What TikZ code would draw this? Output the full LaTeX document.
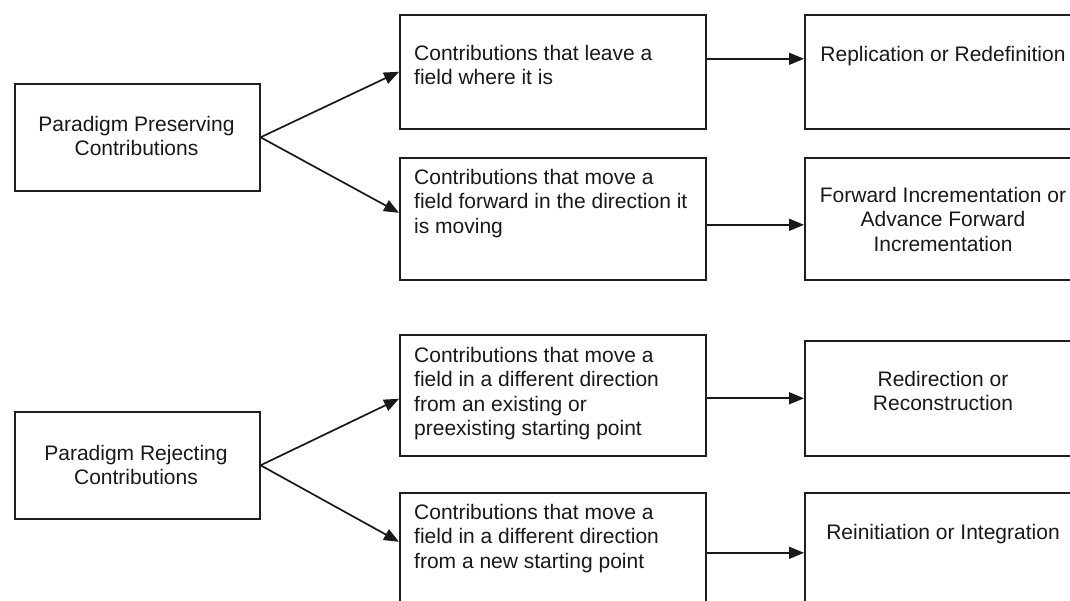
\documentclass[tikz,border=0pt]{standalone}
\usepackage{fontspec}
\setmainfont{Liberation Sans}
\usetikzlibrary{arrows.meta}
\tikzset{
  box/.style={draw=black!88, line width=1.6pt, rectangle, inner sep=0pt, anchor=north west},
  txt/.style={inner sep=0pt, font=\fontsize{21pt}{24.5pt}\selectfont, text=black!90},
  arr/.style={draw=black!90, line width=1.7pt, -{Triangle[length=15pt,width=12pt]}}
}
\begin{document}
\begin{tikzpicture}[x=1pt,y=-1pt]
\useasboundingbox (0,0) rectangle (1070,601);
\clip (0,0) rectangle (1070,601);
\fill[white] (0,0) rectangle (1070,601);
% boxes
\node[box, minimum width=245pt, minimum height=107pt] (pp) at (14,83) {};
\node[box, minimum width=245pt, minimum height=107pt] (pr) at (14,411) {};
\node[box, minimum width=306pt, minimum height=114pt] (m1) at (399,14) {};
\node[box, minimum width=306pt, minimum height=122pt] (m2) at (399,157) {};
\node[box, minimum width=306pt, minimum height=121pt] (m3) at (399,334) {};
\node[box, minimum width=306pt, minimum height=140pt] (m4) at (399,492) {};
\node[box, minimum width=278pt, minimum height=114pt] (r1) at (804,14) {};
\node[box, minimum width=278pt, minimum height=122pt] (r2) at (804,157) {};
\node[box, minimum width=278pt, minimum height=115pt] (r3) at (804,340) {};
\node[box, minimum width=278pt, minimum height=140pt] (r4) at (804,492) {};
% texts
\node[txt, align=center, anchor=north] (tpp) at (136.5,116) {Paradigm Preserving\\Contributions};
\node[txt, align=center, anchor=north] (tpr) at (136,445) {Paradigm Rejecting\\Contributions};
\node[txt, align=left, anchor=north west] (tm1) at (414,45) {Contributions that leave a\\field where it is};
\node[txt, align=left, anchor=north west] (tm2) at (414,169) {Contributions that move a\\field forward in the direction it\\is moving};
\node[txt, align=left, anchor=north west] (tm3) at (414,347) {Contributions that move a\\field in a different direction\\from an existing or\\preexisting starting point};
\node[txt, align=left, anchor=north west] (tm4) at (414,504) {Contributions that move a\\field in a different direction\\from a new starting point};
\node[txt, anchor=base] (tr1) at (943,61.5) {Replication or Redefinition};
\node[txt, align=center, anchor=north] (tr2) at (943,187) {Forward Incrementation or\\Advance Forward\\Incrementation};
\node[txt, align=center, anchor=north] (tr3) at (943,371) {Redirection or\\Reconstruction};
\node[txt, anchor=base] (tr4) at (943,539.5) {Reinitiation or Integration};
% connectors
\draw[arr] (pp.east) -- (m1.west);
\draw[arr] (pp.east) -- ([yshift=6pt]m2.west);
\draw[arr] (pr.east) -- ([yshift=-3.5pt]m3.west);
\draw[arr] (pr.east) -- ([yshift=21pt]m4.west);
\draw[arr] ([yshift=13pt]m1.east) -- ([yshift=13pt]r1.west);
\draw[arr] ([yshift=-6pt]m2.east) -- ([yshift=-6pt]r2.west);
\draw[arr] (m3.east |- r3.west) -- (r3.west);
\draw[arr] ([yshift=10pt]m4.east) -- ([yshift=10pt]r4.west);
\end{tikzpicture}
\end{document}
